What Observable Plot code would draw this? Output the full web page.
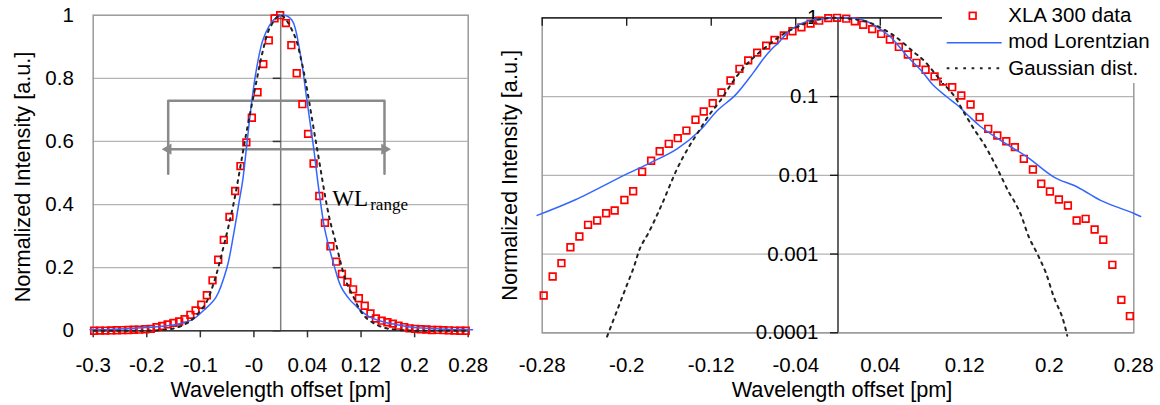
<!DOCTYPE html>
<html>
<head>
<meta charset="utf-8">
<script src="https://cdn.jsdelivr.net/npm/d3@7"></script>
<script src="https://cdn.jsdelivr.net/npm/@observablehq/plot@0.6"></script>
<style>
  html, body { margin: 0; padding: 0; background: #fff; }
  #wrap { position: relative; width: 1160px; height: 405px; overflow: hidden; background: #fff; }
  #left { position: absolute; left: 0; top: 0; width: 490px; height: 405px; }
  #right { position: absolute; left: 490px; top: 0; width: 670px; height: 405px; }
  #legend { position: absolute; left: 942px; top: 0; }
</style>
</head>
<body>
<div id="wrap">
  <div id="left"></div>
  <div id="right"></div>
  <svg id="legend" width="218" height="83" font-family="'Liberation Sans', Arial, sans-serif" font-size="20.5">
    <rect x="0" y="0" width="218" height="83" fill="#fff"></rect>
    <rect x="27.4" y="12.4" width="6.6" height="6.6" fill="none" stroke="#ff0000" stroke-width="1.7"></rect>
    <line x1="4.7" x2="59.7" y1="42.7" y2="42.7" stroke="#3366ff" stroke-width="1.5"></line>
    <line x1="4.7" x2="59.7" y1="68.3" y2="68.3" stroke="#222" stroke-width="2" stroke-dasharray="2.7,5.6"></line>
    <text x="66.3" y="21.7">XLA 300 data</text>
    <text x="66.3" y="48.3">mod Lorentzian</text>
    <text x="66.3" y="75">Gaussian dist.</text>
  </svg>
</div>
<script>
// ---------- data ----------
const dataX = [-0.2786,-0.2701,-0.2618,-0.2533,-0.2448,-0.2366,-0.2280,-0.2195,-0.2114,-0.2022,
  -0.1939,-0.1854,-0.1769,-0.1688,-0.1602,-0.1517,-0.1435,-0.1349,-0.1271,-0.1186,
  -0.1103,-0.1018,-0.0933,-0.0850,-0.0765,-0.0680,-0.0601,-0.0513,-0.0431,-0.0346,
  -0.0260,-0.0178,-0.0092,-0.0008,0.0078,0.0159,0.0239,0.0324,0.0409,0.0491,
  0.0576,0.0661,0.0743,0.0829,0.0914,0.0996,0.1081,0.1167,0.1255,0.1340,
  0.1422,0.1508,0.1593,0.1674,0.1759,0.1845,0.1924,0.2006,0.2091,0.2176,
  0.2259,0.2344,0.2429,0.2511,0.2597,0.2682,0.2763];
const dataY = [0.000298,0.000519,0.000766,0.00122,0.00167,0.00235,0.00267,0.00330,0.00357,0.00486,
  0.00628,0.0111,0.0153,0.0202,0.0251,0.0296,0.0370,0.0507,0.0646,0.0824,
  0.1126,0.160,0.225,0.288,0.361,0.443,0.522,0.597,0.675,0.756,
  0.845,0.920,0.990,1.000,0.975,0.905,0.816,0.718,0.624,0.530,
  0.427,0.342,0.268,0.219,0.180,0.155,0.1315,0.103,0.0793,0.0547,
  0.0389,0.0320,0.0271,0.0228,0.0162,0.01186,0.0078,0.00622,0.00493,0.00414,
  0.00267,0.00280,0.00205,0.00152,0.00073,0.000262,0.000163];

const lorX = [-0.2848,-0.2486,-0.2012,-0.1776,-0.1523,-0.1307,-0.1144,-0.0970,-0.0803,-0.0704,
  -0.0620,-0.0565,-0.0504,-0.0430,-0.0355,-0.0257,-0.0107,0.0040,0.0167,0.0291,
  0.0391,0.0490,0.0564,0.0660,0.0800,0.0900,0.1034,0.1129,0.1236,0.1349,
  0.1539,0.1792,0.2044,0.2265,0.2486,0.2675,0.2798,0.2865];
const lorY = [0.0031,0.0049,0.0102,0.0144,0.0217,0.0371,0.066,0.105,0.2,0.305,
  0.41,0.48,0.594,0.731,0.837,0.927,0.985,1.0,0.985,0.879,
  0.731,0.583,0.456,0.32,0.205,0.14,0.098,0.078,0.057,0.0417,
  0.0277,0.017,0.0095,0.0071,0.0048,0.0038,0.0033,0.0030];

const gauX = [-0.2786,-0.2448,-0.2186,-0.2091,-0.2012,-0.1933,-0.1870,-0.1791,-0.1665,-0.1523,
  -0.1413,-0.1333,-0.1223,-0.1113,-0.0987,-0.0860,-0.0703,-0.0513,-0.0355,-0.0280,
  -0.0157,0.0000,0.0191,0.0317,0.0528,0.0718,0.0813,0.0971,0.1097,0.1191,
  0.1286,0.1381,0.1460,0.1539,0.1617,0.1665,0.1728,0.1807,0.1886,0.1965,
  0.2044,0.2123,0.2170,0.2450,0.2763];
const gauY = [0,0.00001,0.0000897,0.000192,0.000362,0.00068,0.00122,0.00189,0.00434,0.0121,
  0.0228,0.0337,0.0574,0.0891,0.160,0.261,0.404,0.627,0.798,0.875,
  0.962,1.0,0.943,0.848,0.596,0.366,0.287,0.160,0.103,0.0633,
  0.0389,0.0251,0.0162,0.0100,0.0061,0.00478,0.00324,0.00164,0.00101,0.00059,
  0.000283,0.000158,0.000092,0.00001,0];

const xTickVals = [-0.28,-0.2,-0.12,-0.04,0.04,0.12,0.2,0.28];
const xTickLabelsLin = ["-0.3","-0.2","-0.1","-0","0.04","0.12","0.2","0.28"];
const xTickLabelsLog = ["-0.28","-0.2","-0.12","-0.04","0.04","0.12","0.2","0.28"];
const yTicksLin = [0,0.2,0.4,0.6,0.8,1];
const yTickLabelsLin = ["0","0.2","0.4","0.6","0.8","1"];
const yTicksLog = [0.0001,0.001,0.01,0.1,1];
const yTickLabelsLog = ["0.0001","0.001","0.01","0.1","1"];

// annotation (WL range bracket) in data units of the linear panel
const bracketX = [-0.168, 0.155];
const bracketY = [0.729, 0.498];
const arrowY = [0.5756];
const wlPos = [0.0769, 0.397];

// ---------- helpers ----------
const FONT = "'Liberation Sans', Arial, sans-serif";
const pts = (xs, ys) => xs.map((x, i) => ({x, y: ys[i]}));
const data = pts(dataX, dataY);
const lor = pts(lorX, lorY);
const gau = pts(gauX, gauY);
const linLabel = new Map(xTickVals.map((v, i) => [v, xTickLabelsLin[i]]));
const logLabel = new Map(xTickVals.map((v, i) => [v, xTickLabelsLog[i]]));
const yLinLabel = new Map(yTicksLin.map((v, i) => [v, yTickLabelsLin[i]]));
const tickLeft = {draw(ctx) { ctx.moveTo(-8, 0); ctx.lineTo(0, 0); }};
const tickDown = {draw(ctx) { ctx.moveTo(0, 0); ctx.lineTo(0, 8); }};
const bracket = [
  {x: bracketX[0], y: bracketY[1]}, {x: bracketX[0], y: bracketY[0]},
  {x: bracketX[1], y: bracketY[0]}, {x: bracketX[1], y: bracketY[1]}
];
const arrowLine = [{x: bracketX[0], y: arrowY[0]}, {x: bracketX[1], y: arrowY[0]}];
const heads = [
  {x: bracketX[0], y: arrowY[0], r: -90},
  {x: bracketX[1], y: arrowY[0], r: 90}
];
const style = {fontFamily: FONT, fontSize: "20.5px", background: "transparent", overflow: "visible", maxWidth: "none"};
const squares = (d) => Plot.dot(d, {x: "x", y: "y", symbol: "square", r: 3.75, stroke: "#ff0000", fill: "none", strokeWidth: 1.7});
const lorLine = (d) => Plot.line(d, {x: "x", y: "y", stroke: "#3366ff", strokeWidth: 1.5, curve: "catmull-rom"});
const gauLine = (d) => Plot.line(d, {x: "x", y: "y", stroke: "#222", strokeWidth: 2, strokeDasharray: "2.7,5", curve: "catmull-rom"});
const titleSize = 21.7;

// ---------- left (linear) panel ----------
const left = Plot.plot({
  width: 490, height: 405,
  marginLeft: 92.7, marginRight: 22.3, marginTop: 14.7, marginBottom: 74.7,
  x: {domain: [-0.28, 0.28], axis: null},
  y: {domain: [0, 1], axis: null},
  style,
  marks: [
    Plot.ruleY(yTicksLin.filter(d => d > 0 && d < 1), {stroke: "#b4b4b4", strokeWidth: 1.3}),
    Plot.frame({stroke: "#9a9a9a", strokeWidth: 1.5}),
    Plot.ruleX([0], {stroke: "#7f7f7f", strokeWidth: 1.5}),
    Plot.dot(yTicksLin, {x: 0, y: d => d, symbol: tickLeft, stroke: "#333", fill: "none", strokeWidth: 1.5}),
    Plot.ruleY([0], {stroke: "#3a3a3a", strokeWidth: 1.5}),
    Plot.axisX({ticks: xTickVals, tickFormat: d => linLabel.get(d), tickSize: 7, tickPadding: 20, stroke: "#333", strokeWidth: 1.5, label: null, fontSize: 20.5}),
    Plot.axisY({ticks: yTicksLin, tickFormat: d => yLinLabel.get(d), tickSize: 0, tickPadding: 19.4, label: null, fontSize: 20.5}),
    Plot.line(bracket, {x: "x", y: "y", stroke: "#8a8a8a", strokeWidth: 2.5}),
    Plot.line(arrowLine, {x: "x", y: "y", stroke: "#8a8a8a", strokeWidth: 2.5}),
    Plot.dot(heads, {x: "x", y: "y", rotate: "r", symbol: "triangle", r: 4.2, fill: "#8a8a8a", stroke: "none"}),
    Plot.text([wlPos], {x: d => d[0], y: d => d[1], text: ["WL"], textAnchor: "start", lineAnchor: "bottom", fontFamily: "'Liberation Serif', 'Times New Roman', serif", fontSize: 23}),
    Plot.text([wlPos], {x: d => d[0], y: d => d[1], text: ["range"], textAnchor: "start", lineAnchor: "bottom", dx: 38, dy: 4.3, fontFamily: "'Liberation Serif', 'Times New Roman', serif", fontSize: 17}),
    squares(data),
    lorLine(lor),
    gauLine(gau),
    Plot.text(["Normalized Intensity [a.u.]"], {frameAnchor: "left", textAnchor: "middle", lineAnchor: "middle", dx: -70.2, dy: 4, rotate: -90, fontSize: titleSize, text: d => d}),
    Plot.text(["Wavelength offset [pm]"], {frameAnchor: "bottom", textAnchor: "middle", dy: 59.7, lineAnchor: "middle", fontSize: titleSize, text: d => d})
  ]
});
document.getElementById("left").appendChild(left);

// ---------- right (log) panel ----------
const right = Plot.plot({
  width: 670, height: 405,
  marginLeft: 51.7, marginRight: 26.7, marginTop: 17.3, marginBottom: 72.7,
  x: {domain: [-0.28, 0.28], axis: null},
  y: {type: "log", domain: [0.0001, 1], axis: null},
  style,
  marks: [
    Plot.ruleY(yTicksLog, {stroke: "#b4b4b4", strokeWidth: 1.3}),
    Plot.frame({stroke: "#9a9a9a", strokeWidth: 1.5}),
    Plot.ruleY([1], {stroke: "#111", strokeWidth: 1.3}),
    Plot.dot(xTickVals, {x: d => d, y: 1, symbol: tickDown, stroke: "#111", fill: "none", strokeWidth: 1.3}),
    Plot.ruleX([0], {stroke: "#111", strokeWidth: 1.3}),
    Plot.dot(yTicksLog, {x: 0, y: d => d, symbol: tickLeft, stroke: "#111", fill: "none", strokeWidth: 1.3}),
    Plot.text(yTicksLog, {x: 0, y: d => d, text: (d, i) => yTickLabelsLog[i], textAnchor: "end", dx: -19.5, fontSize: 20.5}),
    Plot.axisX({ticks: xTickVals, tickFormat: d => logLabel.get(d), tickSize: 0, tickPadding: 25, label: null, fontSize: 20.5}),
    squares(data),
    lorLine(lor),
    gauLine(gau.filter(d => d.y >= 0.00008)),
    Plot.text(["Normalized Intensity [a.u.]"], {frameAnchor: "left", textAnchor: "middle", lineAnchor: "middle", dx: -31.7, rotate: -90, fontSize: titleSize, text: d => d}),
    Plot.text(["Wavelength offset [pm]"], {frameAnchor: "bottom", textAnchor: "middle", dx: 4, dy: 57.7, lineAnchor: "middle", fontSize: titleSize, text: d => d})
  ]
});
document.getElementById("right").appendChild(right);
</script>
</body>
</html>
